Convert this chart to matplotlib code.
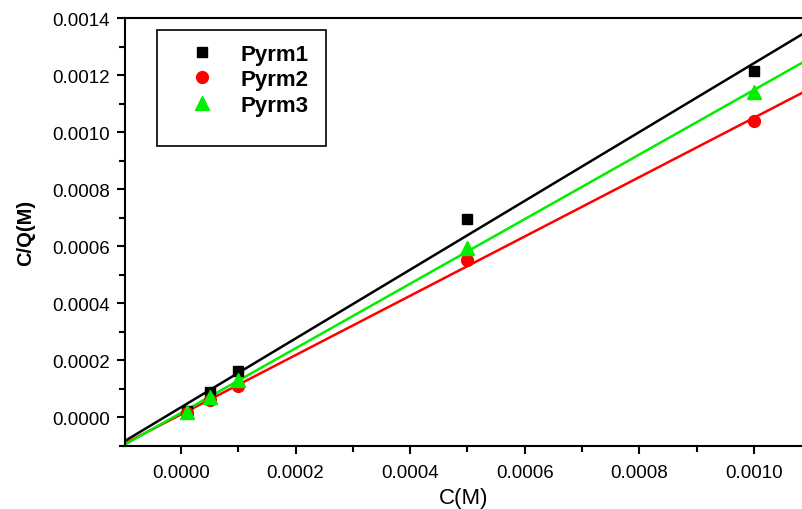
import numpy as np
import matplotlib
matplotlib.use("Agg")
import matplotlib.pyplot as plt
from matplotlib.patches import Rectangle
from matplotlib.ticker import MultipleLocator, FormatStrFormatter

plt.rcParams['font.family'] = ['Liberation Sans', 'DejaVu Sans']

# concentracion (M) y C/Q (M)
conc = [0.00001, 0.00005, 0.0001, 0.0005, 0.001]
pyrm1 = [0.000021, 0.000088, 0.000162, 0.000696, 0.001213]
pyrm2 = [0.000015, 0.000060, 0.000112, 0.000552, 0.001040]
pyrm3 = [0.000020, 0.000073, 0.000130, 0.000594, 0.001142]

series = [("Pyrm1", pyrm1, "black", "s", 7.5),
          ("Pyrm2", pyrm2, "red", "o", 8.5),
          ("Pyrm3", pyrm3, "#00ee00", "^", 9.5)]

fig = plt.figure(figsize=(8.02, 5.10), dpi=100)
ax = fig.add_axes([125 / 802, 63 / 510, 677 / 802, 428 / 510])

xmin, xmax = -0.0000977, 0.0010838
xfit = np.array([xmin, xmax])
handles = []
for name, y, col, mk, ms in series:
    m, b = np.polyfit(conc, y, 1)
    ax.plot(xfit, m * xfit + b, color=col, lw=1.8, zorder=2)
    h, = ax.plot(conc, y, ls='none', marker=mk, ms=ms, color=col, label=name, zorder=3)
    handles.append(h)

ax.set_xlim(xmin, xmax)
ax.set_ylim(-0.0001, 0.0014)
ax.xaxis.set_major_locator(MultipleLocator(0.0002))
ax.xaxis.set_minor_locator(MultipleLocator(0.0001))
ax.yaxis.set_major_locator(MultipleLocator(0.0002))
ax.yaxis.set_minor_locator(MultipleLocator(0.0001))
ax.xaxis.set_major_formatter(FormatStrFormatter('%.4f'))
ax.yaxis.set_major_formatter(FormatStrFormatter('%.4f'))
ax.tick_params(which='major', direction='out', length=6, width=1.5, labelsize=13.5)
ax.tick_params(which='minor', direction='out', length=4, width=1.5)
ax.tick_params(axis='x', pad=7)
ax.tick_params(axis='y', pad=5)
for s in ['left', 'bottom', 'top']:
    ax.spines[s].set_linewidth(1.5)
ax.spines['right'].set_visible(False)

ax.set_xlabel("C(M)", fontsize=16, labelpad=4)
ax.set_ylabel("C/Q(M)", fontsize=14.5, fontweight='bold', labelpad=12)

# recuadro de la leyenda
fig.patches.append(Rectangle((157 / 802, 1 - 147 / 510), 169 / 802, 116 / 510,
                             transform=fig.transFigure, fill=False, ec='black', lw=1.2))
ax.legend(handles=handles, loc='upper left', bbox_to_anchor=(168 / 802, 1 - 27 / 510),
          bbox_transform=fig.transFigure, frameon=False, prop={'size': 16, 'weight': 'bold'},
          handletextpad=0.95, labelspacing=0.2, handlelength=1.5, borderpad=0.3)

plt.savefig("out.png", dpi=100)
